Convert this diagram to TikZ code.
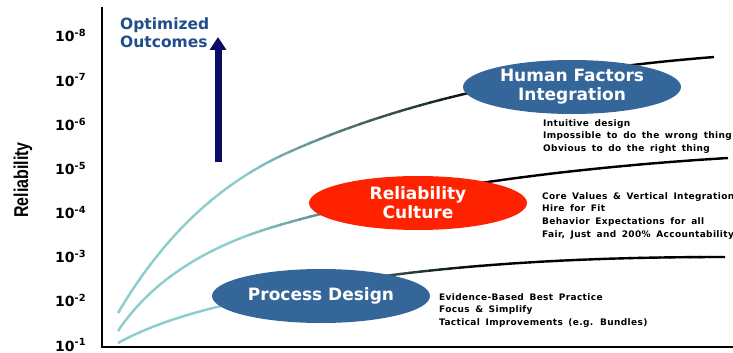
\documentclass[tikz,border=0pt]{standalone}
\usepackage{fontspec}
\setmainfont{DejaVu Sans}
\newfontfamily\narrowsans{Liberation Sans}
\newfontfamily\notefont[LetterSpace=4, WordSpace=1.6]{DejaVu Sans}
\usetikzlibrary{shapes.geometric, arrows.meta}
\definecolor{stageblue}{RGB}{52,102,153}
\definecolor{culturered}{RGB}{255,34,0}
\definecolor{curveteal}{RGB}{140,205,205}
\definecolor{arrownavy}{RGB}{12,12,100}
\definecolor{titleblue}{RGB}{31,78,140}

\begin{document}
\begin{tikzpicture}[x=1pt, y=-1pt,
    stage/.style={ellipse, fill=stageblue, text=white, minimum width=218pt,
      minimum height=54pt, inner sep=0pt, align=center,
      font=\bfseries\fontsize{17}{19}\selectfont},
    notes/.style={anchor=north west, align=left, inner sep=0pt,
      font=\notefont\bfseries\fontsize{9}{12.7}\selectfont},
    ticklabel/.style={anchor=base west, inner sep=0pt,
      font=\bfseries\fontsize{14}{14}\selectfont}]
  \useasboundingbox (0,0) rectangle (733,353);
  \draw[line width=2.5pt] (102,7) -- (102,347) -- (733,347);
  \foreach \e in {1,...,8}
    \node[ticklabel] (tick\e) at (55, {351-44.15*(\e-1)}) {10\textsuperscript{-\e}};
  \node[rotate=90, inner sep=0pt, font=\narrowsans\bfseries\fontsize{20}{20}\selectfont] (ylabel) at (23,180) {\scalebox{0.8}[1]{Reliability}};
  \node[anchor=north west, align=left, inner sep=0pt, text=titleblue,
    font=\bfseries\fontsize{15.5}{18}\selectfont] (goal) at (120,18) {Optimized\\Outcomes};
  \coordinate (rise) at (218,162);
  \coordinate (peak) at (218,37);
  \draw[arrownavy, line width=7pt, -{Triangle[width=16pt,length=13pt]}] (rise) -- (peak);
  \foreach \x in {100,110,...,730} {
    \pgfmathtruncatemacro\tint{min(100,max(0,(480-\x)/2.4))}
    \begin{scope}
      \clip (\x-0.6,0) rectangle (\x+10.6,353);
      \draw[draw=curveteal!\tint!black, line width=2.4pt] (118,313)
        .. controls (168,228) and (227,180) .. (287,153)
        .. controls (417,94.5) and (564,69) .. (714,57);
      \draw[draw=curveteal!\tint!black, line width=2.4pt] (118,331)
        .. controls (158,271) and (223,242) .. (273,227)
        .. controls (403,188) and (578,167) .. (728,158);
      \draw[draw=curveteal!\tint!black, line width=2.4pt] (118,343)
        .. controls (148,326.5) and (183,315.5) .. (213,308)
        .. controls (373,268) and (545,257) .. (725,257);
    \end{scope}
  }
  \node[stage] (human) at (572,87) {Human Factors\\Integration};
  \node[stage, fill=culturered] (culture) at (418,203) {Reliability\\Culture};
  \node[stage] (process) at (321,296) {Process Design};
  \node[notes] (humannotes) at (543,119) {Intuitive design\\Impossible to do the wrong thing\\Obvious to do the right thing};
  \node[notes] (culturenotes) at (542,192) {Core Values \& Vertical Integration\\Hire for Fit\\Behavior Expectations  for all\\Fair, Just and 200\% Accountability};
  \node[notes] (processnotes) at (439,293) {Evidence-Based Best Practice\\Focus \& Simplify\\Tactical Improvements (e.g. Bundles)};
\end{tikzpicture}
\end{document}
